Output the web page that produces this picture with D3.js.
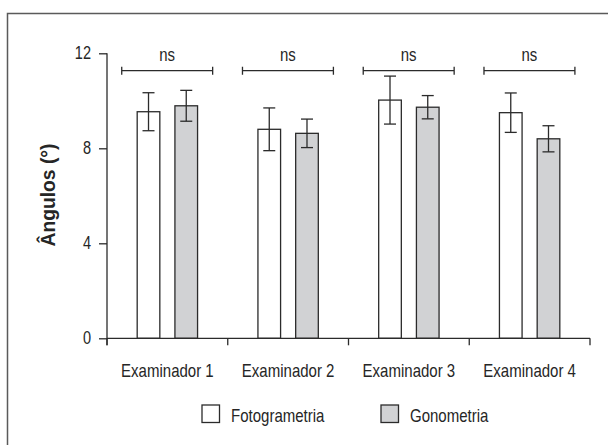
<!DOCTYPE html>
<html>
<head>
<meta charset="utf-8">
<script src="https://cdn.jsdelivr.net/npm/d3@7"></script>
<style>
  body { margin: 0; background: #fff; }
  svg text { font-family: "Liberation Sans", Arial, sans-serif; fill: #262626; }
</style>
</head>
<body>
<svg id="chart"></svg>
<script>
const examiners = ['Examinador 1', 'Examinador 2', 'Examinador 3', 'Examinador 4'];
const series = ['Fotogrametria', 'Gonometria'];
const fotoMean = [9.54, 8.80, 10.03, 9.50];
const fotoErr = [0.80, 0.90, 1.01, 0.83];
const gonoMean = [9.79, 8.63, 9.73, 8.40];
const gonoErr = [0.65, 0.60, 0.49, 0.55];
const sigLabels = ['ns', 'ns', 'ns', 'ns'];
const yTicks = [0, 4, 8, 12];

const W = 608, H = 445;
const margin = {top: 53.3, right: 18, bottom: 106.7, left: 107};
const width = W - margin.left - margin.right,
  height = H - margin.top - margin.bottom;

const colors = {Fotogrametria: '#ffffff', Gonometria: '#d1d2d4'};
const ink = '#2b2b2b';

const svg = d3.select('#chart')
  .attr('width', W)
  .attr('height', H);

// outer frame (runs off the right and bottom edges)
svg.append('rect')
  .attr('x', 7.5).attr('y', 13.5)
  .attr('width', W).attr('height', H)
  .attr('fill', 'none')
  .attr('stroke', '#5a5a5a')
  .attr('stroke-width', 1.5);

const plot = svg.append('g')
  .attr('transform', `translate(${margin.left},${margin.top})`);

const x0 = d3.scaleBand().domain(examiners).range([0, width]);
const x1 = d3.scaleBand().domain(series).range([x0.bandwidth() * 0.25, x0.bandwidth() * 0.75]).paddingInner(0.4);
const y = d3.scaleLinear().domain([0, 12]).range([height, 0]);

const data = [];
examiners.forEach((e, i) => {
  data.push({ex: e, s: 'Fotogrametria', v: fotoMean[i], err: fotoErr[i]});
  data.push({ex: e, s: 'Gonometria', v: gonoMean[i], err: gonoErr[i]});
});

// bars
plot.append('g').selectAll('rect')
  .data(data)
  .join('rect')
  .attr('x', d => x0(d.ex) + x1(d.s))
  .attr('y', d => y(d.v))
  .attr('width', x1.bandwidth())
  .attr('height', d => height - y(d.v))
  .attr('fill', d => colors[d.s])
  .attr('stroke', ink)
  .attr('stroke-width', 1.3);

// error bars
const eb = plot.append('g').attr('stroke', ink).attr('stroke-width', 1.3);
data.forEach(d => {
  const cx = x0(d.ex) + x1(d.s) + x1.bandwidth() / 2;
  eb.append('line').attr('x1', cx).attr('x2', cx).attr('y1', y(d.v + d.err)).attr('y2', y(d.v - d.err));
  eb.append('line').attr('x1', cx - 6).attr('x2', cx + 6).attr('y1', y(d.v + d.err)).attr('y2', y(d.v + d.err));
  eb.append('line').attr('x1', cx - 6).attr('x2', cx + 6).attr('y1', y(d.v - d.err)).attr('y2', y(d.v - d.err));
});

// significance brackets
const sig = plot.append('g');
examiners.forEach((e, i) => {
  const xa = x0(e) + x0.bandwidth() * 0.122,
    xb = x0(e) + x0.bandwidth() * 0.875,
    yb = 17.4;
  sig.append('path')
    .attr('d', `M${xa},${yb - 4}V${yb + 4}M${xa},${yb}H${xb}M${xb},${yb - 4}V${yb + 4}`)
    .attr('fill', 'none')
    .attr('stroke', ink)
    .attr('stroke-width', 1.3);
  sig.append('text')
    .attr('class', 'cond')
    .attr('x', (xa + xb) / 2)
    .attr('y', 7.5)
    .attr('text-anchor', 'middle')
    .style('font-size', '18px')
    .text(sigLabels[i]);
});

// y axis
const yAxis = plot.append('g')
  .call(d3.axisLeft(y).tickValues(yTicks).tickSize(8).tickPadding(8).tickFormat(d3.format('d')));
yAxis.select('.domain').attr('d', `M0,0V${height + 7}`);

// x axis
const xAxis = plot.append('g')
  .attr('transform', `translate(0,${height})`)
  .call(d3.axisBottom(x0).tickSize(0).tickPadding(25));
xAxis.select('.domain').attr('d', `M0,0H${width}`);
xAxis.selectAll('.bound')
  .data(d3.range(examiners.length + 1))
  .join('line')
  .attr('class', 'bound')
  .attr('x1', i => i * x0.bandwidth()).attr('x2', i => i * x0.bandwidth())
  .attr('y1', 0).attr('y2', 7)
  .attr('stroke', ink).attr('stroke-width', 1.3);

plot.selectAll('.domain, .tick line').attr('stroke', ink).attr('stroke-width', 1.3);
plot.selectAll('.tick text').attr('class', 'cond').attr('fill', '#262626').style('font-size', '19px');
yAxis.selectAll('.tick text').style('font-size', '17.5px');

// y label
svg.append('text')
  .attr('transform', 'translate(55,195) rotate(-90)')
  .attr('text-anchor', 'middle')
  .attr('textLength', 103)
  .attr('lengthAdjust', 'spacingAndGlyphs')
  .style('font-size', '20.5px')
  .style('font-weight', 'bold')
  .text('Ângulos (°)');

// legend
const legend = svg.append('g');
const legX = [202, 381];
series.forEach((s, i) => {
  legend.append('rect')
    .attr('x', legX[i]).attr('y', 405)
    .attr('width', 17.5).attr('height', 17.5)
    .attr('fill', colors[s])
    .attr('stroke', ink).attr('stroke-width', 1.3);
  legend.append('text')
    .attr('class', 'cond')
    .attr('x', legX[i] + 29).attr('y', 421.5)
    .style('font-size', '19px')
    .text(s);
});

// squeeze regular text to the condensed width of the reference face
svg.selectAll('text.cond').each(function () {
  const w = this.getComputedTextLength();
  const fs = parseFloat(this.style.fontSize);
  const k = fs >= 19 ? 0.79 : 0.83;
  d3.select(this).attr('textLength', w * k).attr('lengthAdjust', 'spacingAndGlyphs');
});
</script>
</body>
</html>
